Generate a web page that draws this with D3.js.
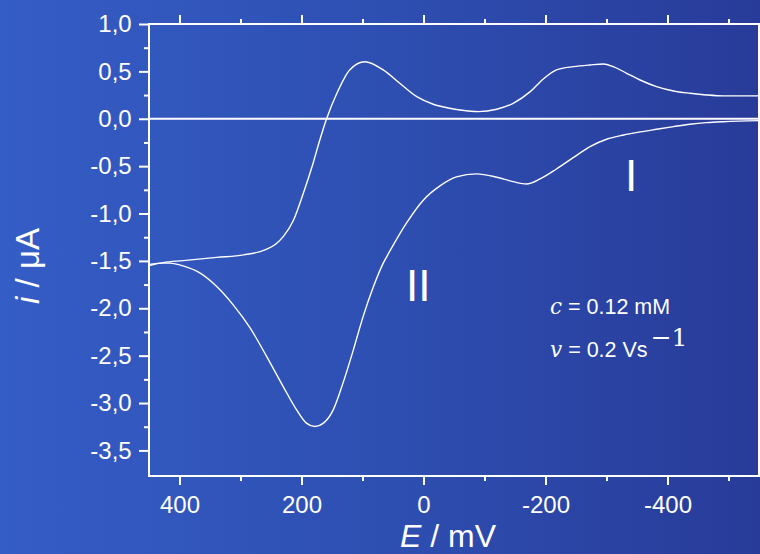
<!DOCTYPE html>
<html>
<head>
<meta charset="utf-8">
<script src="https://cdn.jsdelivr.net/npm/d3@7"></script>
<style>
    body { margin: 0; padding: 0; overflow: hidden; }
    #cv text { font-family: "Liberation Sans", Arial, sans-serif; fill: white; }
</style>
</head>
<body>
<div id="cv"></div>
<script>
// cathodic scan (lower branch), E in mV and i in uA
var cathodicE = [450, 427, 416, 394, 366, 339, 312, 284, 257, 230, 208, 192, 178, 164, 148, 132, 115, 99, 82, 66, 55, 28, 0,
    -27, -54, -87, -120, -147, -169, -191, -218, -246, -273, -300, -328, -355, -382, -410, -437, -464, -492, -550];
var cathodicI = [-1.537, -1.524, -1.524, -1.553, -1.630, -1.771, -1.964, -2.210, -2.510, -2.826, -3.072, -3.212, -3.248, -3.212,
    -3.072, -2.790, -2.439, -2.088, -1.771, -1.524, -1.395, -1.102, -0.857, -0.709, -0.614, -0.582, -0.617, -0.664,
    -0.688, -0.635, -0.530, -0.408, -0.294, -0.216, -0.171, -0.139, -0.111, -0.083, -0.058, -0.041, -0.031, -0.020];

// anodic scan (upper branch)
var anodicE = [450, 427, 394, 339, 295, 260, 242, 230, 213, 197, 181, 170, 159, 142, 121, 96, 66, 39, 11, -16, -43, -60, -90,
    -120, -147, -175, -196, -218, -246, -273, -295, -311, -333, -355, -382, -410, -437, -464, -492, -550];
var anodicI = [-1.548, -1.518, -1.497, -1.463, -1.437, -1.384, -1.321, -1.244, -1.068, -0.786, -0.469, -0.224, -0.002, 0.269,
    0.515, 0.602, 0.515, 0.374, 0.233, 0.153, 0.111, 0.093, 0.075, 0.100, 0.163, 0.286, 0.417, 0.515, 0.550, 0.568, 0.578,
    0.550, 0.480, 0.409, 0.339, 0.293, 0.269, 0.251, 0.241, 0.241];

var xMajor = [400, 200, 0, -200, -400];
var xMinor = [300, 100, -100, -300, -500];
var yMajor = [1.0, 0.5, 0.0, -0.5, -1.0, -1.5, -2.0, -2.5, -3.0, -3.5];
var yMinor = [0.75, 0.25, -0.25, -0.75, -1.25, -1.75, -2.25, -2.75, -3.25];

function renderCV() {
    var width = 760, height = 554;

    var svg = d3.select("#cv")
        .append("svg")
        .attr("width", width)
        .attr("height", height);

    // blue background, lighter on the left
    var grad = svg.append("defs").append("linearGradient")
        .attr("id", "bg")
        .attr("x1", "0").attr("y1", "0")
        .attr("x2", "1").attr("y2", "0");
    grad.append("stop").attr("offset", "0").attr("stop-color", "#355dc6");
    grad.append("stop").attr("offset", "0.5").attr("stop-color", "#2e4fb2");
    grad.append("stop").attr("offset", "1").attr("stop-color", "#283b99");
    svg.append("rect")
        .attr("width", width)
        .attr("height", height)
        .attr("fill", "url(#bg)");

    var left = 149, right = 759, top = 24, bottom = 476;

    // potential axis runs from positive to negative
    var x = d3.scaleLinear()
        .domain([450, -550])
        .range([left, right]);
    var y = d3.scaleLinear()
        .domain([-3.77, 1.0])
        .range([bottom, top]);

    var fmtY = function (d) { return d3.format(".1f")(d).replace("−", "-").replace(".", ","); };
    var fmtX = function (d) { return String(d); };

    // bottom axis
    svg.append("g")
        .attr("transform", "translate(0," + bottom + ")")
        .call(d3.axisBottom(x).tickValues(xMajor).tickSize(9).tickPadding(10.5).tickFormat(fmtX));
    svg.append("g")
        .attr("transform", "translate(0," + bottom + ")")
        .call(d3.axisBottom(x).tickValues(xMinor).tickSize(5).tickFormat(""));

    // top axis, ticks only
    svg.append("g")
        .attr("transform", "translate(0," + top + ")")
        .call(d3.axisTop(x).tickValues(xMajor).tickSize(9).tickFormat(""));
    svg.append("g")
        .attr("transform", "translate(0," + top + ")")
        .call(d3.axisTop(x).tickValues(xMinor).tickSize(5).tickFormat(""));

    // left axis
    svg.append("g")
        .attr("transform", "translate(" + left + ",0)")
        .call(d3.axisLeft(y).tickValues(yMajor).tickSize(10).tickPadding(7.3).tickFormat(fmtY));
    svg.append("g")
        .attr("transform", "translate(" + left + ",0)")
        .call(d3.axisLeft(y).tickValues(yMinor).tickSize(5).tickFormat(""));

    svg.selectAll(".domain").remove();
    svg.selectAll(".tick line")
        .attr("stroke", "white")
        .attr("stroke-width", 2);
    svg.selectAll(".tick text")
        .style("font-size", "24px")
        .attr("fill", "white");

    // frame
    svg.append("path")
        .attr("d", "M" + left + "," + top + "H" + right + "V" + bottom + "H" + left + "Z")
        .attr("fill", "none")
        .attr("stroke", "white")
        .attr("stroke-width", 2);

    // zero line
    svg.append("line")
        .attr("x1", left).attr("x2", right)
        .attr("y1", y(0)).attr("y2", y(0))
        .attr("stroke", "white")
        .attr("stroke-width", 2);

    // the voltammogram
    var line = d3.line()
        .x(function (d) { return x(d[0]); })
        .y(function (d) { return y(d[1]); })
        .curve(d3.curveMonotoneX);

    var branches = [d3.zip(cathodicE, cathodicI), d3.zip(anodicE, anodicI)];
    svg.selectAll(".branch")
        .data(branches)
        .enter()
        .append("path")
        .attr("class", "branch")
        .attr("d", line)
        .attr("fill", "none")
        .attr("stroke", "white")
        .attr("stroke-width", 1.4);

    // axis titles
    var xt = svg.append("text")
        .attr("x", 448)
        .attr("y", 547)
        .attr("text-anchor", "middle")
        .style("font-size", "32px");
    xt.append("tspan").style("font-style", "italic").text("E");
    xt.append("tspan").text(" / mV");

    var yt = svg.append("text")
        .attr("transform", "translate(39,266) rotate(-90)")
        .attr("text-anchor", "middle")
        .style("font-size", "33px");
    yt.append("tspan").style("font-style", "italic").text("i");
    yt.append("tspan").text(" / μA");

    // peak labels
    svg.append("text")
        .attr("x", 625).attr("y", 191)
        .style("font-size", "44px")
        .text("I");
    svg.append("text")
        .attr("x", 406).attr("y", 301)
        .style("font-size", "44px")
        .text("II");

    // conditions
    var c = svg.append("text")
        .attr("x", 550).attr("y", 314)
        .style("font-size", "21.5px");
    c.append("tspan").style("font-family", "'DejaVu Serif', serif").style("font-style", "italic").text("c");
    c.append("tspan").text(" = 0.12 mM");

    var v = svg.append("text")
        .attr("x", 550).attr("y", 357)
        .style("font-size", "21.5px");
    v.append("tspan").style("font-family", "'DejaVu Serif', serif").style("font-style", "italic").text("v");
    v.append("tspan").text(" = 0.2 Vs");
    v.append("tspan")
        .attr("dx", 3)
        .attr("dy", -11)
        .style("font-family", "'DejaVu Serif', serif")
        .style("font-size", "25px")
        .text("−1");
}
renderCV();
</script>
</body>
</html>
